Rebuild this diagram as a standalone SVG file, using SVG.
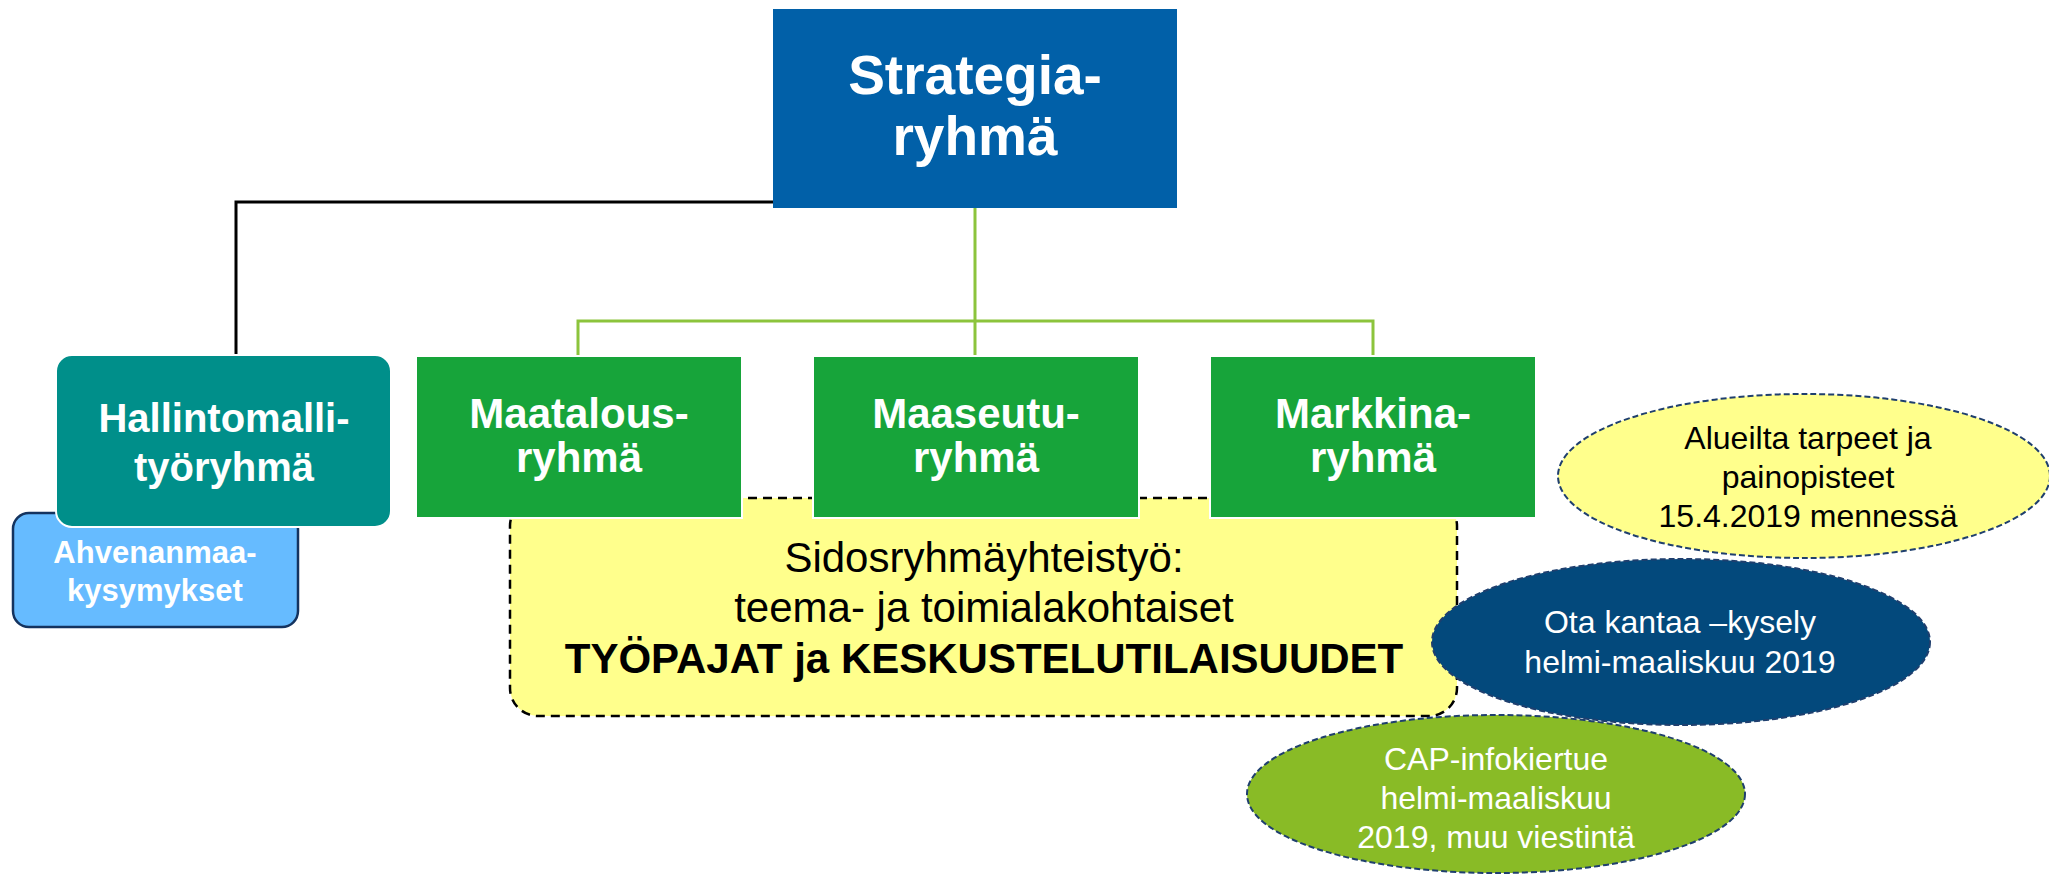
<svg xmlns="http://www.w3.org/2000/svg" width="2049" height="876" viewBox="0 0 2049 876">
<style>
text{font-family:"Liberation Sans",Arial,sans-serif;text-anchor:middle}
.wb{fill:#fff;font-weight:bold}
.box{stroke:#fff;stroke-width:2}
.green{fill:#17A43A}
.g{font-size:42px}
.ell{stroke:#1F3F6E;stroke-width:2;stroke-dasharray:6 3}
.reg{font-size:32px}
</style>
<rect width="2049" height="876" fill="#fff"/>
<g id="connectors" fill="none">
  <path d="M773 202 H236 V355" stroke="#000" stroke-width="3"/>
  <path d="M975 208 V355 M578 355 V321 H1373 V355" stroke="#8CC43C" stroke-width="3"/>
</g>
<g id="sidosryhma">
  <rect x="510" y="498" width="947" height="218" rx="28" fill="#FFFF8C" stroke="#000" stroke-width="2.5" stroke-dasharray="9 6"/>
  <text x="984" y="572" font-size="42">Sidosryhmäyhteistyö:</text>
  <text x="984" y="622" font-size="42">teema- ja toimialakohtaiset</text>
  <text x="984" y="673" font-size="42" font-weight="bold">TYÖPAJAT ja KESKUSTELUTILAISUUDET</text>
</g>
<g id="strategia">
  <rect x="773" y="9" width="404" height="199" fill="#0160A8"/>
  <text class="wb" x="975" y="94" font-size="55">Strategia-</text>
  <text class="wb" x="975" y="155" font-size="55">ryhmä</text>
</g>
<g id="ahvenanmaa">
  <rect x="13" y="513" width="285" height="114" rx="16" fill="#66BBFF" stroke="#14335F" stroke-width="2.5"/>
  <text class="wb" x="155" y="563" font-size="31">Ahvenanmaa-</text>
  <text class="wb" x="155" y="601" font-size="31">kysymykset</text>
</g>
<g id="hallintomalli">
  <rect class="box" x="56" y="355" width="335" height="172" rx="16" fill="#008F8A"/>
  <text class="wb" x="224" y="432" font-size="40">Hallintomalli-</text>
  <text class="wb" x="224" y="481" font-size="40">työryhmä</text>
</g>
<g id="maatalous">
  <rect class="box green" x="416" y="356" width="326" height="162"/>
  <text class="wb g" x="579" y="428">Maatalous-</text>
  <text class="wb g" x="579" y="472">ryhmä</text>
</g>
<g id="maaseutu">
  <rect class="box green" x="813" y="356" width="326" height="162"/>
  <text class="wb g" x="976" y="428">Maaseutu-</text>
  <text class="wb g" x="976" y="472">ryhmä</text>
</g>
<g id="markkina">
  <rect class="box green" x="1210" y="356" width="326" height="162"/>
  <text class="wb g" x="1373" y="428">Markkina-</text>
  <text class="wb g" x="1373" y="472">ryhmä</text>
</g>
<g id="alueilta">
  <ellipse class="ell" cx="1804" cy="476" rx="246" ry="82" fill="#FFFF8C"/>
  <text class="reg" x="1808" y="449">Alueilta tarpeet ja</text>
  <text class="reg" x="1808" y="488">painopisteet</text>
  <text class="reg" x="1808" y="527">15.4.2019 mennessä</text>
</g>
<g id="otakantaa">
  <ellipse class="ell" cx="1681" cy="642" rx="249" ry="83" fill="#03497C" stroke="#2A5A8C"/>
  <text class="reg" x="1680" y="633" fill="#fff">Ota kantaa –kysely</text>
  <text class="reg" x="1680" y="673" fill="#fff">helmi-maaliskuu 2019</text>
</g>
<g id="capinfo">
  <ellipse class="ell" cx="1496" cy="794" rx="249" ry="79" fill="#89BB26"/>
  <text class="reg" x="1496" y="770" fill="#fff">CAP-infokiertue</text>
  <text class="reg" x="1496" y="809" fill="#fff">helmi-maaliskuu</text>
  <text class="reg" x="1496" y="848" fill="#fff">2019, muu viestintä</text>
</g>
</svg>
